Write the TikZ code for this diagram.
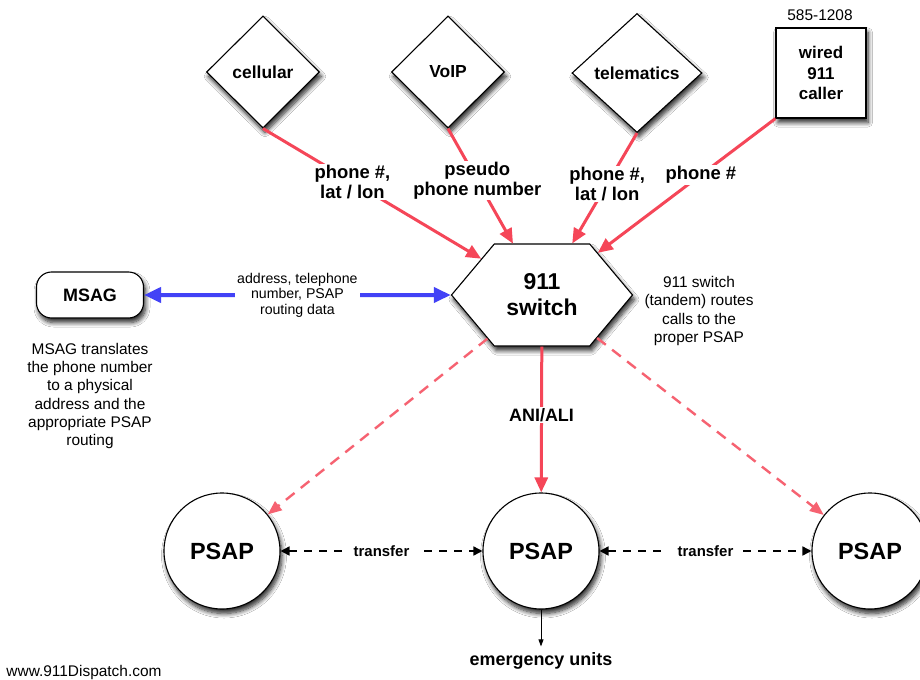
\documentclass[tikz,border=0pt]{standalone}
\usepackage{fontspec}
\setmainfont{Liberation Sans}
\usetikzlibrary{shapes.geometric,shapes.symbols,arrows.meta,shadows.blur}
\definecolor{ared}{RGB}{245,70,88}
\definecolor{ablue}{RGB}{66,66,246}
\newcommand\fsz[2]{\fontsize{#1}{#2}\selectfont}
\tikzset{
  shad/.style={blur shadow={shadow xshift=2bp,shadow yshift=-4.5bp,shadow blur radius=4.5bp,shadow blur steps=8,shadow opacity=85}},
  src/.style={shape=diamond,draw,line width=1.1bp,fill=white,shad,minimum width=113bp,minimum height=112bp,inner sep=0pt,font=\fsz{17.5}{20}\bfseries},
  wbox/.style={draw,line width=1.1bp,fill=white,shad,minimum width=90bp,minimum height=90bp,align=center,font=\fsz{17}{21}\bfseries},
  hex/.style={shape=signal,signal to=east and west,signal pointer angle=100,draw,line width=1.1bp,fill=white,shad,minimum width=181bp,minimum height=102bp,inner sep=0pt,align=center,font=\fsz{23}{26}\bfseries},
  msagbox/.style={draw,line width=1.1bp,fill=white,shad,rounded corners=15bp,minimum width=107bp,minimum height=46bp,font=\fsz{18}{20}\bfseries},
  psap/.style={circle,draw,line width=1.1bp,fill=white,shad,minimum size=116bp,inner sep=0pt,font=\fsz{23.5}{24}\bfseries},
  desc/.style={align=center,font=\fsz{15.5}{18.3}},
  lbl/.style={fill=white,align=center,inner sep=1bp,font=\fsz{18.5}{20}\bfseries},
  smalllbl/.style={fill=white,align=center,inner sep=2bp,font=\fsz{14.2}{15.5}},
  redarr/.style={draw=ared,line width=3bp,-{Triangle[length=15bp,width=13bp]}},
  reddash/.style={draw=ared!85,line width=2.4bp,dash pattern=on 11bp off 8bp,-{Triangle[length=14bp,width=11bp]}},
  bluearr/.style={draw=ablue,line width=4bp,{Triangle[length=17bp,width=15bp]}-{Triangle[length=17bp,width=15bp]}},
  transfer/.style={draw=black,line width=1.6bp,dash pattern=on 8bp off 7bp,{Triangle[length=9bp,width=9bp]}-{Triangle[length=9bp,width=9bp]}},
  trlbl/.style={fill=white,inner xsep=10bp,inner ysep=4bp,font=\fsz{15}{16}\bfseries},
}
\begin{document}
\begin{tikzpicture}[x=1bp,y=-1bp]
\clip (0,0) rectangle (920,680);
\fill[white] (0,0) rectangle (920,680);
% sources
\node[src] (cell) at (263,72) {cellular};
\node[src] (voip) at (448,72) {VoIP};
\node[src,minimum width=130bp,minimum height=119bp] (tele) at (637,73) {telematics};
\node[wbox] (wired) at (821,73) {wired\\911\\caller};
\node[font=\fsz{15.5}{16}] (num) at (820,15) {585-1208};
% switch
\node[hex] (sw) at (542,295) {911\\switch};
\node[desc] (swt) at (699,311) {911 switch\\(tandem) routes\\calls to the\\proper PSAP};
% MSAG
\node[msagbox] (msag) at (90,295) {MSAG};
\node[desc] (msagt) at (90,396) {MSAG translates\\the phone number\\to a physical\\address and the\\appropriate PSAP\\routing};
% PSAPs
\node[psap] (p1) at (222,551) {PSAP};
\node[psap] (p2) at (541,551) {PSAP};
\node[psap] (p3) at (870,551) {PSAP};
\node[font=\fsz{18}{20}\bfseries,inner sep=2bp] (eu) at (541,661) {emergency units};
\node[font=\fsz{15.5}{16}] (web) at (84,673) {www.911Dispatch.com};
% connectors
\draw[redarr] (cell.south) -- node[lbl,pos=0.41]{phone \#,\\lat / lon} (sw);
\draw[redarr] (voip.south) -- node[lbl,pos=0.45]{pseudo\\phone number} (sw);
\draw[redarr] (tele.south) -- node[lbl,pos=0.46]{phone \#,\\lat / lon} (sw);
\draw[redarr] (wired.south west) -- node[lbl,pos=0.42]{phone \#} (sw);
\draw[bluearr] (msag) -- node[smalllbl]{address, telephone\\number, PSAP\\routing data} (sw);
\draw[reddash] (sw) -- (p1);
\draw[reddash] (sw) -- (p3);
\draw[redarr] (sw) -- node[lbl,font=\fsz{18}{20}\bfseries,pos=0.47]{ANI/ALI} (p2);
\draw[transfer] (p1) -- node[trlbl]{transfer} (p2);
\draw[transfer] (p2) -- node[trlbl]{transfer} (p3);
\draw[line width=0.8bp,-{Triangle[length=7bp,width=5bp]},shorten >=4bp] (p2) -- (eu);
\end{tikzpicture}
\end{document}
